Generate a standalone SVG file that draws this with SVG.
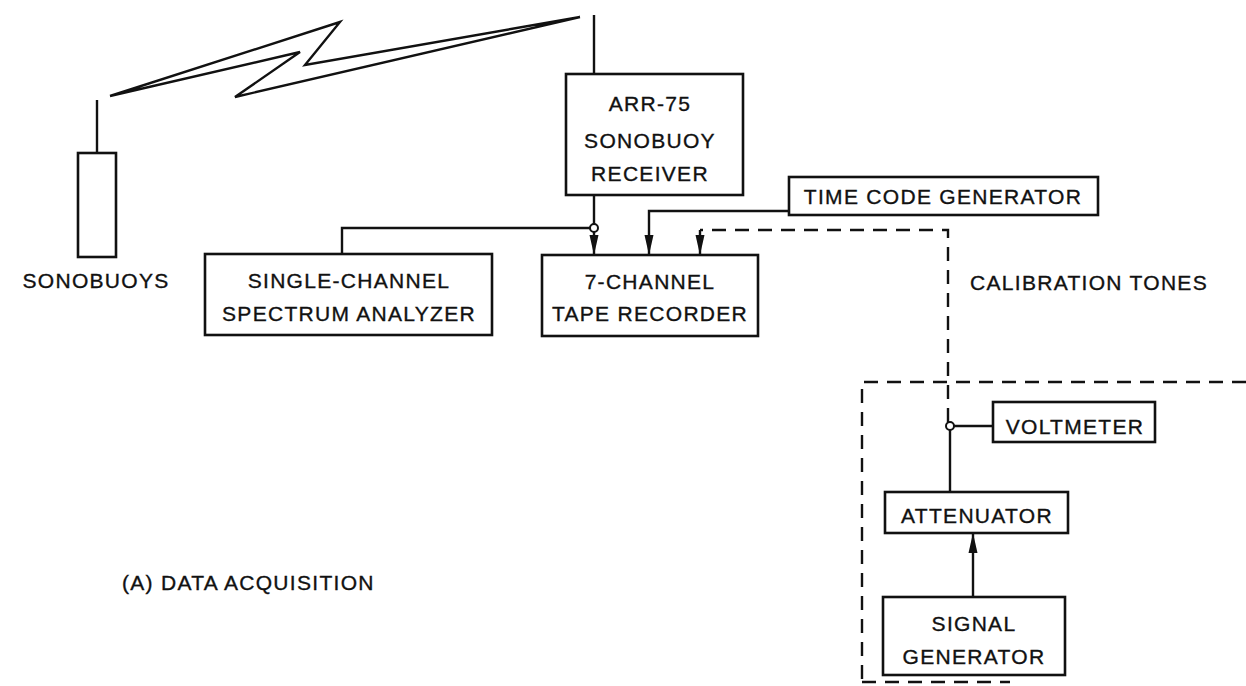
<svg xmlns="http://www.w3.org/2000/svg" width="1246" height="686" viewBox="0 0 1246 686">
<style>
.box{fill:#fff;stroke:#111;stroke-width:2.6}
.ln{fill:none;stroke:#111;stroke-width:2.4}
.dash{fill:none;stroke:#111;stroke-width:2.4;stroke-dasharray:14 9}
text{font-family:"Liberation Sans",Arial,sans-serif;font-size:21px;fill:#111;stroke:#111;stroke-width:0.35;letter-spacing:1.3px}
.c{text-anchor:middle}
</style>
<defs>
<marker id="arrL" viewBox="0 0 20 10" refX="20" refY="5" markerWidth="20" markerHeight="10" markerUnits="userSpaceOnUse" orient="auto">
<path d="M0,0.5 L20,5 L0,9.5 Z" fill="#111"/>
</marker>
</defs>
<rect width="1246" height="686" fill="#fff"/>
<g id="connectors">
<path class="ln" d="M110,96 L340,22 L305,65 L580,17 M110,96 L300,52 L235,97 L580,17" stroke-linejoin="miter"/>
<line class="ln" x1="97" y1="100" x2="97" y2="153"/>
<line class="ln" x1="594" y1="15" x2="594" y2="74"/>
<line class="ln" x1="594" y1="195" x2="594" y2="224"/>
<polyline class="ln" points="342,254 342,228 590,228"/>
<line class="ln" x1="594" y1="232" x2="594" y2="255" marker-end="url(#arrL)"/>
<polyline class="ln" points="789,211 649,211 649,255" marker-end="url(#arrL)"/>
<polyline class="dash" points="948,422 948,230 700,230"/>
<line class="ln" x1="700" y1="230" x2="700" y2="255" marker-end="url(#arrL)"/>
<circle cx="594" cy="228" r="4" fill="#fff" stroke="#111" stroke-width="2"/>
<polyline class="dash" points="1246,382 862,382 862,686"/>
<line class="dash" x1="862" y1="682" x2="1010" y2="682"/>
<circle cx="950" cy="426" r="4" fill="#fff" stroke="#111" stroke-width="2"/>
<line class="ln" x1="954" y1="426" x2="993" y2="426"/>
<line class="ln" x1="950" y1="430" x2="950" y2="492"/>
<line class="ln" x1="973" y1="597" x2="973" y2="533" marker-end="url(#arrL)"/>
</g>
<g id="sonobuoy">
<rect class="box" x="78" y="153" width="38" height="104"/>
<text class="c" x="96" y="288">SONOBUOYS</text>
</g>
<g id="receiver">
<rect class="box" x="566" y="74" width="177" height="121"/>
<text class="c" x="650" y="111">ARR-75</text>
<text class="c" x="650" y="148">SONOBUOY</text>
<text class="c" x="650" y="181">RECEIVER</text>
</g>
<g id="spectrum">
<rect class="box" x="205" y="254" width="287" height="81"/>
<text class="c" x="349" y="288">SINGLE-CHANNEL</text>
<text class="c" x="349" y="321">SPECTRUM ANALYZER</text>
</g>
<g id="tape">
<rect class="box" x="542" y="255" width="216" height="81"/>
<text class="c" x="650" y="289">7-CHANNEL</text>
<text class="c" x="650" y="321">TAPE RECORDER</text>
</g>
<g id="timecode">
<rect class="box" x="789" y="177" width="309" height="38"/>
<text class="c" x="943" y="204">TIME CODE GENERATOR</text>
</g>
<g id="calibration">
<text x="970" y="290">CALIBRATION TONES</text>
</g>
<g id="voltmeter">
<rect class="box" x="993" y="402" width="162" height="40"/>
<text class="c" x="1075" y="434">VOLTMETER</text>
</g>
<g id="attenuator">
<rect class="box" x="885" y="492" width="183" height="41"/>
<text class="c" x="977" y="523">ATTENUATOR</text>
</g>
<g id="siggen">
<rect class="box" x="883" y="597" width="182" height="78"/>
<text class="c" x="974" y="631">SIGNAL</text>
<text class="c" x="974" y="664">GENERATOR</text>
</g>
<g id="caption">
<text x="122" y="590">(A) DATA ACQUISITION</text>
</g>
</svg>
